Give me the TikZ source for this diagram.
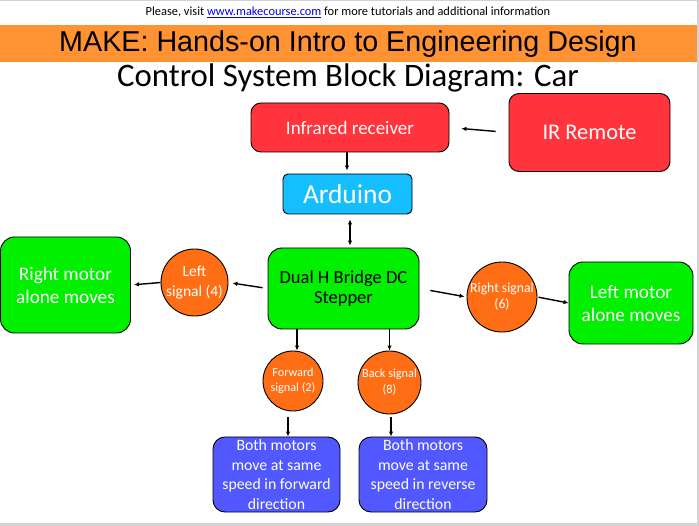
\documentclass[tikz,border=0pt]{standalone}
\usepackage{fontspec}
\setmainfont{Carlito}
\newfontfamily\arialfont{Liberation Sans}
\usetikzlibrary{arrows.meta,positioning}
\definecolor{MakeFrame}{HTML}{D2D2D2}
\definecolor{MakeBand}{HTML}{FF9333}
\definecolor{MakeRed}{HTML}{FF343C}
\definecolor{MakeCyan}{HTML}{14BEFF}
\definecolor{MakeGreen}{HTML}{00F000}
\definecolor{MakeOrange}{HTML}{FF6E14}
\definecolor{MakeBlue}{HTML}{5258FF}
\definecolor{MakeLink}{HTML}{0000EE}
\tikzset{
  make block/.style={
    draw=black,
    line width=0.9pt,
    rounded corners=10pt,
    align=center,
    text=white,
    inner sep=2pt
  },
  make red/.style={make block,fill=MakeRed},
  make cyan/.style={make block,fill=MakeCyan,rounded corners=5pt},
  make green/.style={make block,fill=MakeGreen,rounded corners=14pt},
  make blue/.style={make block,fill=MakeBlue,rounded corners=12pt,
    font=\fontsize{15.8}{19.4}\selectfont},
  make signal/.style={
    circle,
    draw=black,
    line width=0.9pt,
    fill=MakeOrange,
    text=white,
    align=center,
    inner sep=0pt
  },
  make flow/.style={-{Latex[length=5pt,width=4.5pt]},draw=black,line width=1.4pt},
  make both flow/.style={{Latex[length=5pt,width=4.5pt]}-{Latex[length=5pt,width=4.5pt]},draw=black,line width=1.4pt}
}

\begin{document}
\begin{tikzpicture}[x=1pt,y=-1pt]
  % frame and header
  \fill[MakeFrame] (0,0) rectangle (699,526);
  \fill[white] (0,1.5) rectangle (697,523);
  \useasboundingbox (0,0) rectangle (699,526);
  \fill[MakeBand] (0,25) rectangle (697,62);
  \node[font=\fontsize{12.4}{14}\selectfont] (visit) at (348,12)
    {Please, visit \textcolor{MakeLink}{\underline{www.makecourse.com}} for more tutorials and additional information};
  \node[font=\arialfont\fontsize{28.7}{32}\selectfont] (make) at (348,44) {MAKE: Hands-on Intro to Engineering Design};
  \node[font=\fontsize{32.8}{36}\selectfont] (title) at (348,78) {Control System Block Diagram: Car};

  % blocks
  \node[make red,minimum width=198pt,minimum height=49pt,font=\fontsize{19}{22}\selectfont] (recv) at (350,127.5) {Infrared receiver};
  \node[make red,minimum width=161pt,minimum height=78pt,font=\fontsize{22.4}{26}\selectfont] (remote) at (589.5,132.5) {IR Remote};
  \node[make cyan,minimum width=129pt,minimum height=40pt,font=\fontsize{27.4}{30}\selectfont] (arduino) at (347.5,194) {Arduino};
  \node[make green,text=black,minimum width=151pt,minimum height=81pt,font=\fontsize{18.5}{20}\selectfont] (hbridge) at (343.5,288.5) {Dual H Bridge DC\\Stepper};
  \node[make green,minimum width=130pt,minimum height=96pt,font=\fontsize{19.2}{23}\selectfont] (rmotor) at (65.5,285) {Right motor\\alone moves};
  \node[make green,minimum width=124pt,minimum height=82pt,font=\fontsize{19.2}{23}\selectfont] (lmotor) at (631,303) {Left motor\\alone moves};
  \node[make blue,minimum width=127pt,minimum height=75pt] (fwdbox) at (276.5,474.5) {Both motors\\move at same\\speed in forward\\direction};
  \node[make blue,minimum width=128pt,minimum height=75pt] (revbox) at (423,474.5) {Both motors\\move at same\\speed in reverse\\direction};

  % signals
  \node[make signal,minimum size=67pt,font=\fontsize{15.5}{20}\selectfont] (lsig) at (194.5,282.5) {Left\\signal (4)};
  \node[make signal,minimum size=70pt,font=\fontsize{13.7}{16}\selectfont] (rsig) at (502,297) {Right signal\\(6)};
  \node[make signal,minimum size=60pt,font=\fontsize{12.2}{15}\selectfont] (fsig) at (293,381) {Forward\\signal (2)};
  \node[make signal,minimum size=63pt,font=\fontsize{12.3}{16}\selectfont] (bsig) at (389.5,382.5) {Back signal\\(8)};

  % connectors
  \draw[make flow,shorten <=13pt,shorten >=12pt] (remote.west) -- (recv.east);
  \draw[make flow,shorten >=3pt] (recv.south -| 347,0) -- (arduino.north -| 347,0);
  \draw[make both flow,shorten <=5pt,shorten >=2pt] ([xshift=2.5pt]arduino.south) -- ([xshift=2.5pt]arduino.south |- hbridge.north);
  \draw[make flow,shorten <=5pt,shorten >=4pt] (hbridge.west) -- (lsig.east);
  \draw[make flow,shorten >=3pt] (lsig.west) -- (rmotor.east);
  \draw[make flow,shorten <=11pt,shorten >=2pt] (hbridge.east) -- (rsig.west);
  \draw[make flow,shorten <=1pt] (rsig.east) -- (lmotor.west);
  \draw[make flow] ([xshift=4pt]fsig.north |- hbridge.south) -- ([xshift=4pt]fsig.north);
  \draw[make flow] (bsig.north |- hbridge.south) -- (bsig.north);
  \draw[make flow,shorten <=6pt] ([xshift=-5pt]fsig.south) -- ([xshift=-5pt]fsig.south |- fwdbox.north);
  \draw[make flow,shorten <=3pt] ([xshift=1.5pt]bsig.south) -- ([xshift=1.5pt]bsig.south |- revbox.north);
\end{tikzpicture}
\end{document}
